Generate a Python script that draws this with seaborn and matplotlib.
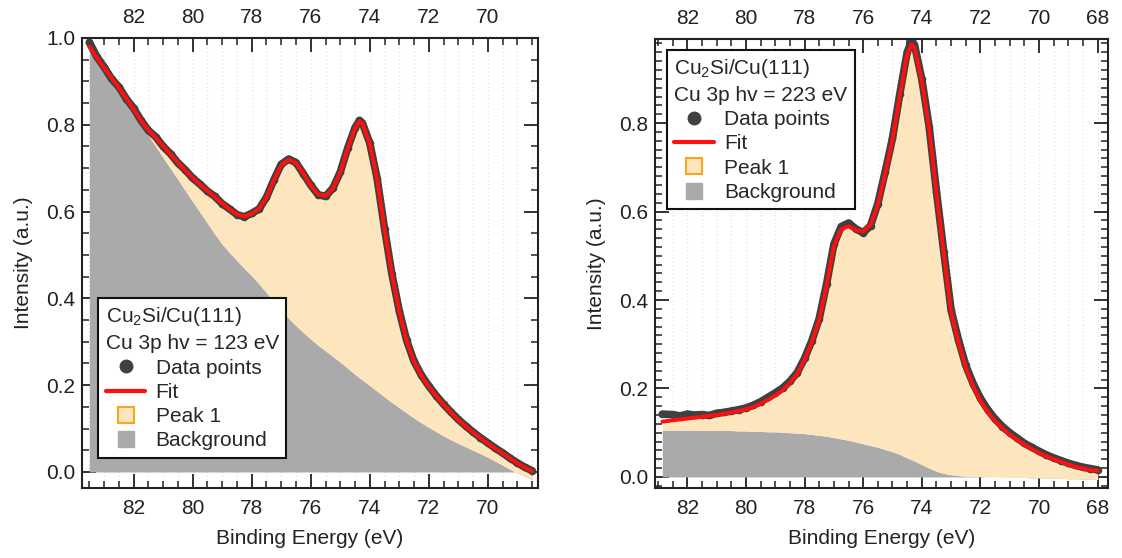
import numpy as np
import matplotlib
matplotlib.use("Agg")
import matplotlib.pyplot as plt
import seaborn as sns
from matplotlib.lines import Line2D
from matplotlib.ticker import MultipleLocator, FormatStrFormatter

# Style
sns.set_style("ticks")
plt.rcParams["font.family"] = ["Liberation Sans", "DejaVu Sans"]
plt.rcParams["mathtext.fontset"] = "custom"
plt.rcParams["mathtext.rm"] = "Liberation Sans"
plt.rcParams["mathtext.default"] = "regular"

FS = 15
DOT = "#404040"
RED = "#ff1010"
TAN = "#fde6bd"
ORANGE = "#f5a623"
GRAY = "#aaaaaa"

# Left panel: hv = 123 eV
energy_123 = [83.5, 83.25, 83.0, 82.75, 82.5, 82.25, 82.0, 81.75, 81.5, 81.25,
              81.0, 80.75, 80.5, 80.25, 80.0, 79.75, 79.5, 79.25, 79.0, 78.75,
              78.5, 78.25, 78.0, 77.75, 77.5, 77.25, 77.0, 76.75, 76.5, 76.25,
              76.0, 75.75, 75.5, 75.25, 75.0, 74.75, 74.5, 74.35, 74.25, 74.0,
              73.75, 73.5, 73.25, 73.0, 72.75, 72.5, 72.25, 72.0, 71.75, 71.5,
              71.25, 71.0, 70.75, 70.5, 70.25, 70.0, 69.75, 69.5, 69.25, 69.0,
              68.75, 68.5]
data_123 = [0.990, 0.957, 0.933, 0.906, 0.887, 0.860, 0.838, 0.810, 0.787, 0.772,
            0.750, 0.733, 0.712, 0.696, 0.677, 0.663, 0.647, 0.635, 0.618, 0.606,
            0.593, 0.588, 0.596, 0.606, 0.633, 0.673, 0.709, 0.721, 0.713, 0.687,
            0.661, 0.639, 0.635, 0.654, 0.691, 0.746, 0.793, 0.810, 0.804, 0.758,
            0.676, 0.561, 0.456, 0.371, 0.303, 0.255, 0.223, 0.198, 0.176, 0.156,
            0.138, 0.121, 0.106, 0.092, 0.079, 0.067, 0.055, 0.044, 0.032, 0.021,
            0.011, 0.003]
fit_123 = [0.980, 0.955, 0.931, 0.908, 0.885, 0.861, 0.836, 0.809, 0.788, 0.770,
           0.751, 0.732, 0.713, 0.695, 0.678, 0.662, 0.648, 0.634, 0.619, 0.605,
           0.594, 0.589, 0.595, 0.607, 0.632, 0.672, 0.707, 0.720, 0.712, 0.688,
           0.660, 0.640, 0.636, 0.653, 0.690, 0.745, 0.792, 0.808, 0.803, 0.757,
           0.675, 0.560, 0.455, 0.370, 0.302, 0.254, 0.222, 0.197, 0.175, 0.155,
           0.137, 0.120, 0.105, 0.091, 0.078, 0.066, 0.054, 0.043, 0.031, 0.020,
           0.010, 0.002]
bg_123 = [0.978, 0.953, 0.928, 0.902, 0.877, 0.851, 0.826, 0.801, 0.775, 0.750,
          0.724, 0.699, 0.674, 0.648, 0.623, 0.598, 0.573, 0.548, 0.525, 0.505,
          0.487, 0.469, 0.452, 0.433, 0.413, 0.392, 0.373, 0.354, 0.337, 0.321,
          0.306, 0.292, 0.279, 0.266, 0.253, 0.239, 0.225, 0.217, 0.212, 0.199,
          0.186, 0.173, 0.160, 0.148, 0.136, 0.124, 0.113, 0.103, 0.093, 0.083,
          0.074, 0.066, 0.058, 0.050, 0.042, 0.034, 0.025, 0.016, 0.006, -0.002,
          -0.010, -0.018]

# Right panel: hv = 223 eV
energy_223 = [82.85, 82.5, 82.25, 82.0, 81.75, 81.5, 81.25, 81.0, 80.75, 80.5,
              80.25, 80.0, 79.75, 79.5, 79.25, 79.0, 78.75, 78.5, 78.25, 78.0,
              77.75, 77.5, 77.25, 77.0, 76.75, 76.5, 76.25, 76.0, 75.75, 75.5,
              75.25, 75.0, 74.75, 74.5, 74.35, 74.25, 74.0, 73.75, 73.5, 73.25,
              73.0, 72.75, 72.5, 72.25, 72.0, 71.75, 71.5, 71.25, 71.0, 70.75,
              70.5, 70.25, 70.0, 69.75, 69.5, 69.25, 69.0, 68.75, 68.5, 68.25,
              68.0]
data_223 = [0.142, 0.141, 0.138, 0.142, 0.140, 0.141, 0.139, 0.144, 0.146, 0.149,
            0.152, 0.156, 0.162, 0.170, 0.180, 0.190, 0.201, 0.216, 0.236, 0.268,
            0.308, 0.358, 0.436, 0.526, 0.566, 0.574, 0.561, 0.552, 0.568, 0.618,
            0.690, 0.766, 0.866, 0.960, 0.985, 0.977, 0.899, 0.792, 0.645, 0.509,
            0.377, 0.310, 0.252, 0.211, 0.178, 0.152, 0.131, 0.114, 0.100, 0.088,
            0.076, 0.067, 0.058, 0.050, 0.043, 0.037, 0.031, 0.026, 0.022, 0.019,
            0.016]
fit_223 = [0.125, 0.128, 0.130, 0.132, 0.134, 0.136, 0.138, 0.140, 0.143, 0.146,
           0.149, 0.153, 0.158, 0.166, 0.174, 0.184, 0.196, 0.212, 0.233, 0.265,
           0.305, 0.355, 0.432, 0.522, 0.560, 0.567, 0.558, 0.555, 0.570, 0.615,
           0.686, 0.762, 0.862, 0.955, 0.978, 0.970, 0.895, 0.788, 0.641, 0.505,
           0.372, 0.305, 0.247, 0.205, 0.172, 0.147, 0.127, 0.110, 0.096, 0.084,
           0.073, 0.063, 0.054, 0.047, 0.040, 0.034, 0.028, 0.023, 0.019, 0.016,
           0.014]
bg_223 = [0.106, 0.106, 0.106, 0.106, 0.106, 0.105, 0.105, 0.105, 0.105, 0.105,
          0.104, 0.104, 0.103, 0.103, 0.102, 0.102, 0.101, 0.100, 0.099, 0.098,
          0.096, 0.094, 0.092, 0.089, 0.086, 0.083, 0.079, 0.075, 0.071, 0.067,
          0.062, 0.057, 0.051, 0.043, 0.039, 0.036, 0.028, 0.020, 0.013, 0.008,
          0.005, 0.003, 0.002, 0.001, 0.001, 0.000, 0.000, 0.000, -0.001, -0.001,
          -0.001, -0.002, -0.002, -0.002, -0.003, -0.003, -0.004, -0.004, -0.005, -0.005,
          -0.006]

legend_labels = ["Data points", "Fit", "Peak 1", "Background"]


def draw_panel(ax, energy, data, fit, bg, title, anchor, xlim, ylim, yminor):
    ax.fill_between(energy, bg, 0, color=GRAY, lw=0, zorder=1)
    ax.fill_between(energy, bg, fit, color=TAN, lw=0, zorder=1)
    sns.lineplot(x=energy, y=data, ax=ax, color=DOT, lw=5.5, sort=False, zorder=2)
    sns.scatterplot(x=energy, y=data, ax=ax, color=DOT, s=30, edgecolor=DOT,
                    linewidth=0, zorder=2, legend=False)
    sns.lineplot(x=energy, y=fit, ax=ax, color=RED, lw=2.8, sort=False, zorder=3)

    ax.set_xlim(*xlim)
    ax.set_ylim(*ylim)
    ax.xaxis.set_major_locator(MultipleLocator(2))
    ax.xaxis.set_minor_locator(MultipleLocator(0.5))
    ax.yaxis.set_major_locator(MultipleLocator(0.2))
    ax.yaxis.set_minor_locator(MultipleLocator(yminor))
    ax.xaxis.set_major_formatter(FormatStrFormatter("%d"))
    ax.yaxis.set_major_formatter(FormatStrFormatter("%.1f"))

    ax.set_axisbelow(True)
    ax.xaxis.grid(True, which="both", linestyle=(0, (1, 2.5)), color="#dcdcdc",
                  linewidth=0.8)
    ax.yaxis.grid(False)

    ax.tick_params(which="both", direction="in", top=True, right=True,
                   labeltop=True, labelsize=FS, colors="#222222")
    ax.tick_params(which="major", length=10, width=1.3)
    ax.tick_params(which="minor", length=5, width=1.1)
    ax.tick_params(axis="x", which="major", pad=8)
    ax.tick_params(axis="y", which="major", pad=5)
    for sp in ax.spines.values():
        sp.set_linewidth(1.5)
        sp.set_color("#222222")

    ax.set_xlabel("Binding Energy (eV)", fontsize=FS, labelpad=8, color="#222222")
    ax.set_ylabel("Intensity (a.u.)", fontsize=FS, labelpad=9, color="#222222")

    handles = [
        Line2D([], [], marker="o", ls="none", color=DOT, markersize=9),
        Line2D([], [], color=RED, lw=3),
        Line2D([], [], marker="s", ls="none", markerfacecolor=TAN,
               markeredgecolor=ORANGE, markeredgewidth=1.5, markersize=12),
        Line2D([], [], marker="s", ls="none", markerfacecolor=GRAY,
               markeredgecolor=GRAY, markersize=12),
    ]
    leg = ax.legend(handles, legend_labels, title=title, loc="upper left",
                    bbox_to_anchor=anchor, borderaxespad=0, fontsize=FS,
                    title_fontsize=FS, alignment="left", frameon=True,
                    fancybox=False, edgecolor="#111111", framealpha=1,
                    handlelength=1.9, handletextpad=0.5, labelspacing=0.25,
                    borderpad=0.35)
    leg.get_frame().set_linewidth(1.5)
    leg.get_title().set_linespacing(1.4)
    leg.set_zorder(10)


fig = plt.figure(figsize=(11.22, 5.58), dpi=100)
ax1 = fig.add_axes([0.0731, 0.1254, 0.4064, 0.8065])
ax2 = fig.add_axes([0.5838, 0.1254, 0.4037, 0.8047])

draw_panel(ax1, energy_123, data_123, fit_123, bg_123,
           "Cu$_2$Si/Cu(111)\nCu 3p hv = 123 eV", (0.036, 0.422),
           (83.75, 68.3), (-0.037, 1.0), 0.05)
draw_panel(ax2, energy_223, data_223, fit_223, bg_223,
           "Cu$_2$Si/Cu(111)\nCu 3p hv = 223 eV", (0.026, 0.976),
           (83.1, 67.65), (-0.025, 0.99), 0.02)

fig.savefig("out.png", dpi=100)
